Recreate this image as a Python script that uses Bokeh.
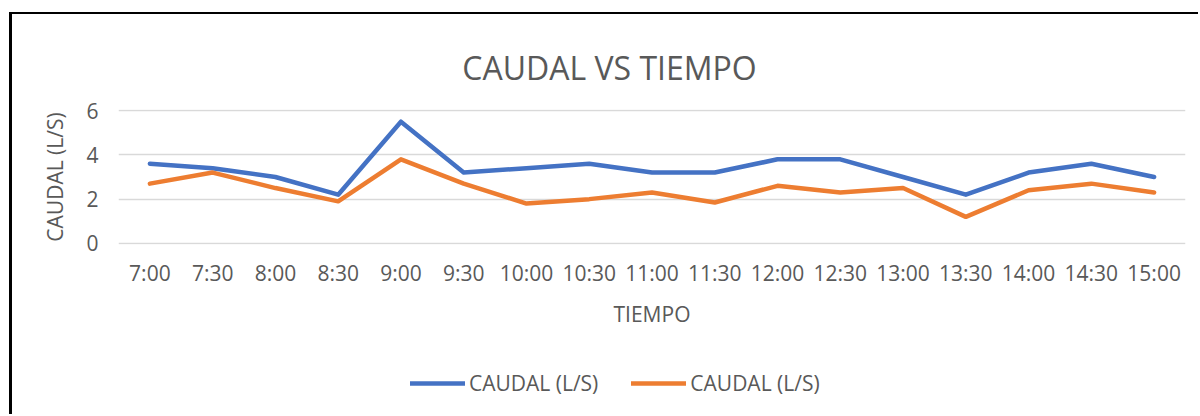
from bokeh.plotting import figure
from bokeh.layouts import column
from bokeh.models import FactorRange, Range1d, Label, Legend, LegendItem, FixedTicker
from bokeh.embed import file_html
from bokeh.resources import INLINE

times = ["7:00", "7:30", "8:00", "8:30", "9:00", "9:30", "10:00", "10:30", "11:00",
         "11:30", "12:00", "12:30", "13:00", "13:30", "14:00", "14:30", "15:00"]
caudal_a = [3.6, 3.4, 3.0, 2.2, 5.5, 3.2, 3.4, 3.6, 3.2, 3.2, 3.8, 3.8, 3.0, 2.2, 3.2, 3.6, 3.0]
caudal_b = [2.7, 3.2, 2.5, 1.9, 3.8, 2.7, 1.8, 2.0, 2.3, 1.85, 2.6, 2.3, 2.5, 1.2, 2.4, 2.7, 2.3]
y_ticks = [0, 2, 4, 6]
series_label = "CAUDAL (L/S)"
title_text = "CAUDAL VS TIEMPO"
x_title = "TIEMPO"

FONT = "Open Sans"
GREY = "#595959"
BLUE = "#4472C4"
ORANGE = "#ED7D31"
LINE = dict(line_width=4.5, line_cap="round", line_join="round")

# title strip
top = figure(x_range=Range1d(0, 1067), y_range=Range1d(0, 70), width=1186, height=70,
             output_backend="svg", toolbar_location=None, x_axis_type=None,
             y_axis_type=None, min_border=0, title=None)
top.outline_line_color = None
top.grid.grid_line_color = None
top.add_layout(Label(x=491, y=17, text=title_text, text_font=FONT, text_font_size="32px",
                     text_color=GREY, text_align="center", text_baseline="alphabetic"))

# main chart
p = figure(x_range=FactorRange(*times), y_range=Range1d(-0.05, 6.05),
           width=1186, height=250, output_backend="svg", toolbar_location=None,
           min_border_left=106, min_border_right=13, min_border_top=25, min_border_bottom=90)
p.outline_line_color = None
p.background_fill_color = "white"
p.border_fill_color = "white"
p.title.text = ""
p.title.standoff = 0

p.line(x=times, y=caudal_a, line_color=BLUE, **LINE)
p.line(x=times, y=caudal_b, line_color=ORANGE, **LINE)

p.xgrid.grid_line_color = None
p.ygrid.grid_line_color = "#D9D9D9"
p.ygrid.grid_line_width = 1.5
p.yaxis.ticker = FixedTicker(ticks=y_ticks)

for ax in (p.xaxis[0], p.yaxis[0]):
    ax.axis_line_color = None
    ax.major_tick_line_color = None
    ax.minor_tick_line_color = None
    ax.major_tick_out = 0
    ax.major_tick_in = 0
    ax.major_label_text_font = FONT
    ax.major_label_text_font_size = "21px"
    ax.major_label_text_color = GREY
    ax.axis_label_text_font = FONT
    ax.axis_label_text_font_size = "21px"
    ax.axis_label_text_font_style = "normal"
    ax.axis_label_text_color = GREY

p.yaxis.major_label_standoff = 20
p.yaxis.axis_label = series_label
p.yaxis.axis_label_standoff = 14
p.xaxis.major_label_standoff = 14
p.xaxis.axis_label = x_title
p.xaxis.axis_label_standoff = 10

# legend strip below the chart (series drawn out of view, only their legend shows)
leg = figure(x_range=FactorRange(*times), y_range=Range1d(10, 11), width=1186, height=80,
             output_backend="svg", toolbar_location=None, x_axis_type=None,
             y_axis_type=None, min_border=0)
leg.outline_line_color = None
leg.grid.grid_line_color = None
la = leg.line(x=times, y=caudal_a, line_color=BLUE, **LINE)
lb = leg.line(x=times, y=caudal_b, line_color=ORANGE, **LINE)
legend = Legend(items=[LegendItem(label=series_label, renderers=[la]),
                       LegendItem(label=series_label, renderers=[lb])],
                orientation="horizontal", location=(292, 17),
                glyph_width=55, glyph_height=20, label_standoff=4, spacing=33,
                padding=0, margin=0, border_line_color=None, background_fill_alpha=0,
                label_text_font=FONT, label_text_font_size="21px", label_text_color=GREY)
leg.add_layout(legend, "center")

layout = column(top, p, leg, spacing=0,
                styles={"border-left": "3px solid #000", "border-top": "2px solid #000",
                        "margin-top": "12px", "margin-left": "9px"})

open("out.html", "w").write(file_html(layout, INLINE))
